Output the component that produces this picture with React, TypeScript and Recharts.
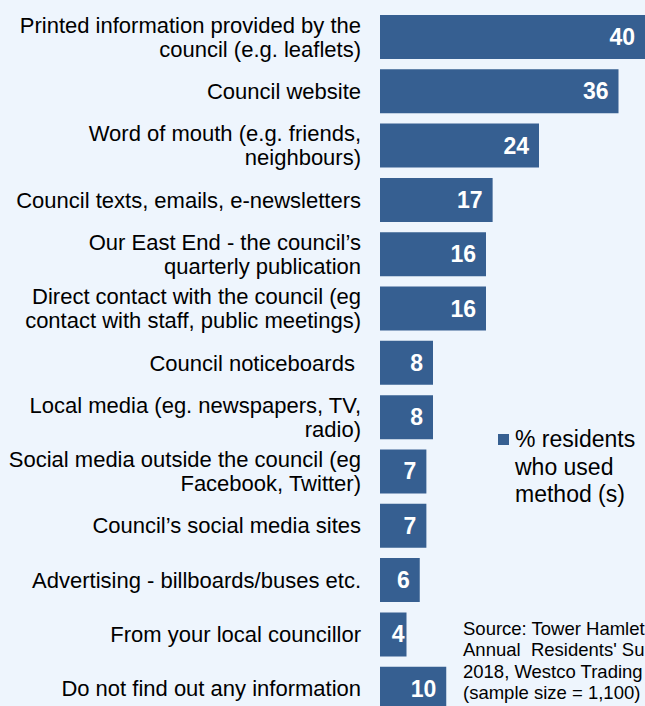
import React from 'react';
import { BarChart, Bar, XAxis, YAxis, LabelList, Legend } from 'recharts';

const categories: string[] = [
  'Printed information provided by the\ncouncil (e.g. leaflets)',
  'Council website',
  'Word of mouth (e.g. friends,\nneighbours)',
  'Council texts, emails, e-newsletters',
  'Our East End - the council\u2019s\nquarterly publication',
  'Direct contact with the council (eg\ncontact with staff, public meetings)',
  'Council noticeboards ',
  'Local media (eg. newspapers, TV,\nradio)',
  'Social media outside the council (eg\nFacebook, Twitter)',
  'Council\u2019s social media sites',
  'Advertising - billboards/buses etc.',
  'From your local councillor',
  'Do not find out any information',
];

const residentsPct: number[] = [40, 36, 24, 17, 16, 16, 8, 8, 7, 7, 6, 4, 10];

const seriesName = '% residents who used method (s)';
const legendLines = ['% residents', 'who used', 'method (s)'];
const sourceLines = [
  'Source: Tower Hamlets',
  'Annual  Residents\' Survey',
  '2018, Westco Trading',
  '(sample size = 1,100)',
];

const BAR_COLOR = '#365F91';
const BG = '#EEF5FD';
const FONT = '"Liberation Sans", Arial, sans-serif';

const data = categories.map((name, i) => ({ name, value: residentsPct[i] }));

const CategoryTick = (props: any) => {
  const { x, y, payload } = props;
  const lines = String(payload.value).split('\n');
  const lh = 24;
  const start = -((lines.length - 1) * lh) / 2;
  return (
    <text
      x={x}
      y={y}
      textAnchor="end"
      fill="#000"
      fontSize={22}
      fontFamily={FONT}
      style={{ whiteSpace: 'pre' }}
    >
      {lines.map((l, i) => (
        <tspan key={i} x={x} y={y + start + i * lh} dominantBaseline="central">
          {l}
        </tspan>
      ))}
    </text>
  );
};

// white value inside the bar end; tiny bars get it pushed to the edge
const ValueLabel = (props: any) => {
  const { x, y, width, height, value } = props;
  const small = width < 30;
  const tx = small ? x + width - 2 : x + width - 10;
  return (
    <text
      x={tx}
      y={y + height / 2}
      textAnchor="end"
      dominantBaseline="central"
      fill="#fff"
      fontSize={23}
      fontWeight="bold"
      fontFamily={FONT}
    >
      {value}
    </text>
  );
};

const LegendBox = () => (
  <div style={{ position: 'relative', fontFamily: FONT, fontSize: 23, lineHeight: '27.5px', color: '#000' }}>
    <span
      style={{ position: 'absolute', left: 0, top: 8, width: 11, height: 11, background: BAR_COLOR }}
    />
    <div style={{ marginLeft: 17 }}>
      {legendLines.map((l, i) => (
        <div key={i} style={{ whiteSpace: 'nowrap' }}>{l}</div>
      ))}
    </div>
  </div>
);

export default function App() {
  return (
    <div
      style={{
        position: 'fixed',
        left: 0,
        top: 0,
        width: 645,
        height: 706,
        overflow: 'hidden',
        background: BG,
      }}
    >
      <BarChart
        layout="vertical"
        width={645}
        height={716}
        data={data}
        margin={{ top: 10, right: 0, bottom: 0, left: 0 }}
        barSize={44}
      >
        <XAxis type="number" domain={[0, 40]} hide />
        <YAxis
          type="category"
          dataKey="name"
          width={380}
          axisLine={false}
          tickLine={false}
          tickSize={0}
          tickMargin={19}
          interval={0}
          tick={<CategoryTick />}
        />
        <Legend
          layout="vertical"
          align="center"
          verticalAlign="middle"
          content={<LegendBox />}
          wrapperStyle={{ position: 'absolute', left: 498, top: 426, width: 147 }}
        />
        <Bar dataKey="value" name={seriesName} fill={BAR_COLOR} isAnimationActive={false}>
          <LabelList dataKey="value" content={<ValueLabel />} />
        </Bar>
      </BarChart>
      <div
        style={{
          position: 'absolute',
          left: 463,
          top: 618,
          fontFamily: FONT,
          fontSize: 18.5,
          lineHeight: '21.3px',
          color: '#000',
          whiteSpace: 'pre',
        }}
      >
        {sourceLines.map((l, i) => (
          <div key={i}>{l}</div>
        ))}
      </div>
    </div>
  );
}
